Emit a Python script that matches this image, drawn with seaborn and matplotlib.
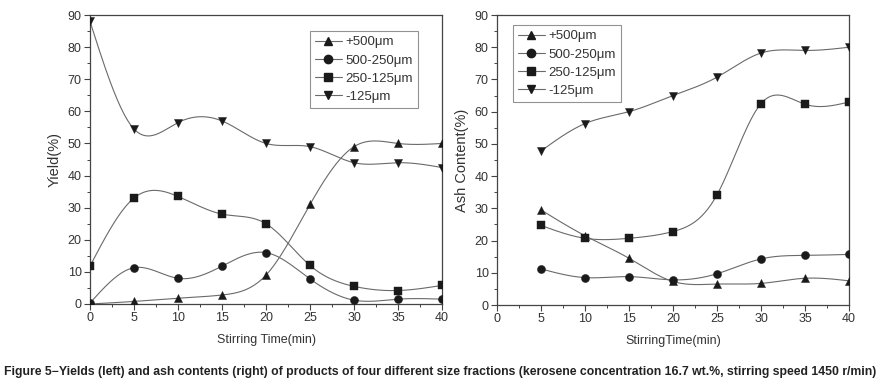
import numpy as np
import pandas as pd
import matplotlib
matplotlib.use("Agg")
import matplotlib.pyplot as plt
from matplotlib.lines import Line2D
from matplotlib.ticker import MultipleLocator
import seaborn as sns

# -------------------- data --------------------
TIME_YIELD = [0, 5, 10, 15, 20, 25, 30, 35, 40]
TIME_ASH = [5, 10, 15, 20, 25, 30, 35, 40]
FRACTIONS = ["+500μm", "500-250μm", "250-125μm", "-125μm"]
MARKERS = ["^", "o", "s", "v"]

yield_p500 = [0.0, 0.8, 1.8, 2.8, 9.0, 31.0, 49.0, 50.0, 50.0]
yield_500_250 = [0.3, 11.3, 8.0, 11.8, 16.0, 7.8, 1.2, 1.5, 1.5]
yield_250_125 = [11.8, 33.0, 33.5, 28.0, 25.0, 12.0, 5.5, 4.2, 5.8]
yield_m125 = [88.0, 54.5, 56.5, 57.0, 50.0, 49.0, 44.0, 44.0, 42.5]

ash_p500 = [29.5, 21.5, 14.5, 7.3, 6.5, 6.7, 8.3, 7.5]
ash_500_250 = [11.2, 8.5, 8.8, 7.8, 9.7, 14.3, 15.4, 15.7]
ash_250_125 = [24.7, 20.7, 20.7, 22.8, 34.2, 62.5, 62.3, 63.0]
ash_m125 = [47.8, 56.3, 60.0, 65.0, 70.7, 78.2, 79.0, 80.0]

CAPTION = ("Figure 5\u2212Yields (left) and ash contents (right) of products of four different "
           "size fractions (kerosene concentration 16.7 wt.%, stirring speed 1450 r/min)")
# ----------------------------------------------


def natural_spline(x, y, n=300):
    """smooth connector through the points (like Origin's spline line)"""
    x, y = np.asarray(x, float), np.asarray(y, float)
    k = len(x)
    h = np.diff(x)
    A = np.zeros((k, k))
    b = np.zeros(k)
    A[0, 0] = A[-1, -1] = 1
    for i in range(1, k - 1):
        A[i, i - 1] = h[i - 1]
        A[i, i] = 2 * (h[i - 1] + h[i])
        A[i, i + 1] = h[i]
        b[i] = 6 * ((y[i + 1] - y[i]) / h[i] - (y[i] - y[i - 1]) / h[i - 1])
    M = np.linalg.solve(A, b)
    xs = np.linspace(x[0], x[-1], n)
    idx = np.clip(np.searchsorted(x, xs) - 1, 0, k - 2)
    x0, x1 = x[idx], x[idx + 1]
    hh = x1 - x0
    t0, t1 = x1 - xs, xs - x0
    ys = (M[idx] * t0**3 + M[idx + 1] * t1**3) / (6 * hh) \
        + (y[idx] / hh - M[idx] * hh / 6) * t0 + (y[idx + 1] / hh - M[idx + 1] * hh / 6) * t1
    return xs, ys


def panel(ax, t, series, ylabel, xlabel, legend_anchor):
    for name, vals, mk in zip(FRACTIONS, series, MARKERS):
        xs, ys = natural_spline(t, vals)
        sns.lineplot(x=xs, y=ys, ax=ax, color="#6a6a6a", lw=0.8, estimator=None)
        sns.scatterplot(x=t, y=vals, ax=ax, marker=mk, color="#1a1a1a", s=34,
                        edgecolor="#1a1a1a", linewidth=0.3, zorder=5)
    ax.set_xlim(0, 40)
    ax.set_ylim(0, 90)
    ax.xaxis.set_major_locator(MultipleLocator(5))
    ax.xaxis.set_minor_locator(MultipleLocator(2.5))
    ax.yaxis.set_major_locator(MultipleLocator(10))
    ax.yaxis.set_minor_locator(MultipleLocator(5))
    ax.tick_params(which="both", bottom=True, left=True, top=False, right=False)
    ax.tick_params(which="major", direction="out", length=4, width=0.8,
                   labelsize=9, colors="#444444", labelcolor="#333333", pad=2)
    ax.tick_params(which="minor", direction="out", length=2.5, width=0.7, colors="#444444")
    for s in ax.spines.values():
        s.set_color("#444444")
        s.set_linewidth(0.9)
    ax.set_ylabel(ylabel, fontsize=10.5, color="#333333", labelpad=4)
    ax.set_xlabel(xlabel, fontsize=9, color="#333333", labelpad=7)
    handles = [Line2D([], [], color="#6a6a6a", lw=0.8, marker=mk, markersize=6,
                      markerfacecolor="#1a1a1a", markeredgecolor="#1a1a1a")
               for mk in MARKERS]
    leg = ax.legend(handles, FRACTIONS, loc="upper left", bbox_to_anchor=legend_anchor,
                    fontsize=9.5, frameon=True, fancybox=False, handlelength=2.0,
                    handletextpad=0.3, labelspacing=0.45, borderpad=0.4,
                    borderaxespad=0, labelcolor="#333333")
    leg.get_frame().set_edgecolor("#777777")
    leg.get_frame().set_linewidth(0.8)


def main():
    sns.set_style("white")
    plt.rcParams["font.family"] = ["Liberation Sans", "DejaVu Sans"]

    fig = plt.figure(figsize=(8.8, 3.84), dpi=100)
    ax1 = fig.add_axes([90 / 880, 1 - 304 / 384, 352 / 880, 289 / 384])
    ax2 = fig.add_axes([497 / 880, 1 - 305 / 384, 352 / 880, 290 / 384])

    panel(ax1, TIME_YIELD, [yield_p500, yield_500_250, yield_250_125, yield_m125],
          "Yield(%)", "Stirring Time(min)", (0.625, 0.945))
    panel(ax2, TIME_ASH, [ash_p500, ash_500_250, ash_250_125, ash_m125],
          "Ash Content(%)", "StirringTime(min)", (0.045, 0.966))

    fig.text(0.5, 1 - 372 / 384, CAPTION, ha="center", va="center", fontsize=8.8,
             fontweight="bold", color="#222222")
    fig.savefig("out.png", dpi=100, facecolor="white")


if __name__ == "__main__":
    main()
